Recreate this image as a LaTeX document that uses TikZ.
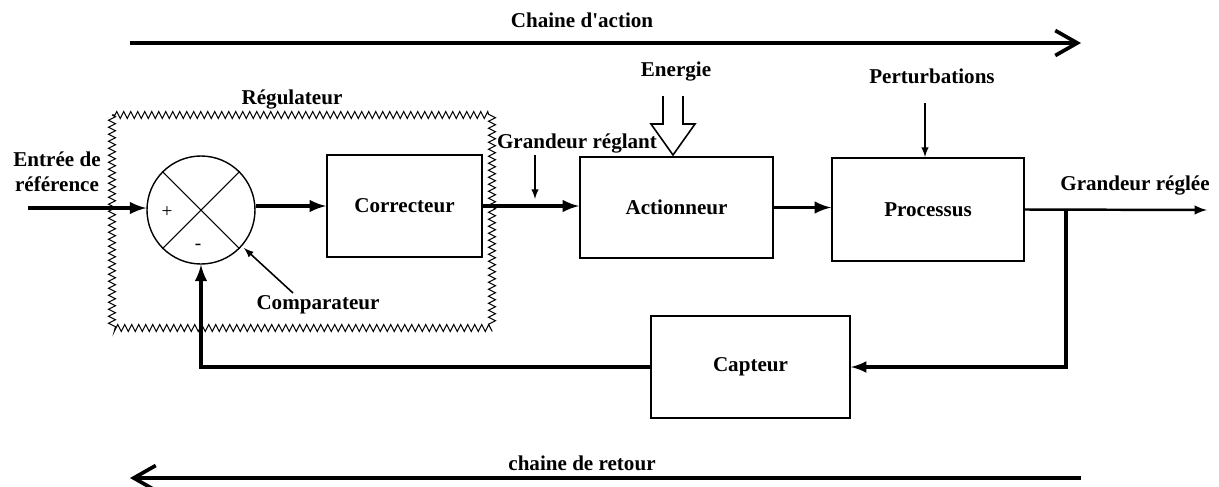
\documentclass[tikz,border=0pt]{standalone}
\usepackage{fontspec}
\setmainfont{Liberation Serif}
\usepackage{tikz}
\usetikzlibrary{positioning,arrows.meta,decorations.pathmorphing}

\begin{document}
\begin{tikzpicture}[auto,font=\fontsize{12}{14}\selectfont\bfseries,
    block/.style={draw,rectangle,line width=1.1pt,inner sep=0pt},
    comp/.style={draw,circle,line width=0.8pt,minimum size=2.16cm,inner sep=0pt},
    sig/.style={-latex,line width=2.2pt},
    thin sig/.style={-latex,line width=0.9pt},
    chain/.style={-{Straight Barb[length=4.4mm,width=5mm]},line width=2.1pt},
    zig/.style={decorate,decoration={zigzag,segment length=1.4mm,amplitude=0.7mm},line width=0.6pt}]
        \useasboundingbox (0,0) rectangle (24.38,-9.72);

        % chaines
        \coordinate (ca1) at (2.6,-0.86);
        \coordinate (ca2) at (21.62,-0.86);
        \coordinate (cr1) at (21.62,-9.56);
        \coordinate (cr2) at (2.6,-9.56);
        \draw[chain] (ca1) -- (ca2);
        \draw[chain] (cr1) -- (cr2);
        \node (lca) at (11.64,-0.4) {Chaine d\textquotesingle action};
        \node (lcr) at (11.64,-9.26) {chaine de retour};

        % regulateur
        \draw[zig] (2.24,-2.3) rectangle (9.84,-6.56);
        \node (lreg) at (5.84,-1.98) {R\'egulateur};

        \node[comp] (cmp) at (4.02,-4.2) {};
        \draw[line width=0.6pt] (cmp.north west) -- (cmp.south east);
        \draw[line width=0.6pt] (cmp.north east) -- (cmp.south west);
        \node[font=\fontsize{11}{13}\selectfont] (plus) at (3.34,-4.24) {+};
        \node[font=\fontsize{11}{13}\selectfont] (minus) at (3.96,-4.94) {-};

        \node[block,minimum width=3.1cm,minimum height=2.04cm] (cor) at (8.09,-4.12) {Correcteur};
        \node[block,minimum width=3.86cm,minimum height=2.02cm] (act) at (13.53,-4.15) {Actionneur};
        \node[block,minimum width=3.84cm,minimum height=2.06cm] (proc) at (18.56,-4.19) {Processus};
        \node[block,minimum width=3.98cm,minimum height=2.04cm] (capt) at (15.01,-7.34) {Capteur};

        % entree
        \coordinate (in) at (0.56,-4.16);
        \node[align=center] (lin) at (1.14,-3.44) {Entr\'ee de\\r\'ef\'erence};
        \draw[sig] (in) -- (in -| cmp.west);

        \draw[sig] (cmp.east |- cor.west) -- (cor.west);
        \draw[sig] (cor.east) -- (cor.east -| act.west);
        \draw[sig] (act.east) -- (act.east -| proc.west);

        % comparateur
        \node (lcmp) at (6.36,-6.1) {Comparateur};
        \draw[thin sig] (5.86,-5.86) -- (4.88,-4.96);

        % grandeur reglant
        \node (lgr) at (11.54,-2.86) {Grandeur r\'eglant};
        \draw[thin sig] (10.7,-3.1) -- (10.7,-3.98);

        % energie
        \node (lnrj) at (13.52,-1.44) {Energie};
        \coordinate (nrj) at (13.46,-3.1);
        \draw[line width=0.9pt,fill=white] (13.26,-1.92) -- (13.26,-2.48) -- (13.02,-2.48) -- (nrj)
            -- (13.9,-2.48) -- (13.66,-2.48) -- (13.66,-1.92);

        % perturbations
        \node (lpert) at (18.64,-1.52) {Perturbations};
        \draw[thin sig] (18.5,-2.06) -- (18.5,-3.14);

        % sortie
        \coordinate (out) at (24.14,-4.2);
        \coordinate (tap) at (21.32,-4.17);
        \node (lout) at (22.7,-3.7) {Grandeur r\'egl\'ee};
        \draw[-latex,line width=1.4pt] (proc.east) -- (out);

        % retour
        \draw[-latex,line width=2pt] (tap) |- (capt.east);
        \draw[sig] (capt.west) -| (cmp.south);
    \end{tikzpicture}
\end{document}
